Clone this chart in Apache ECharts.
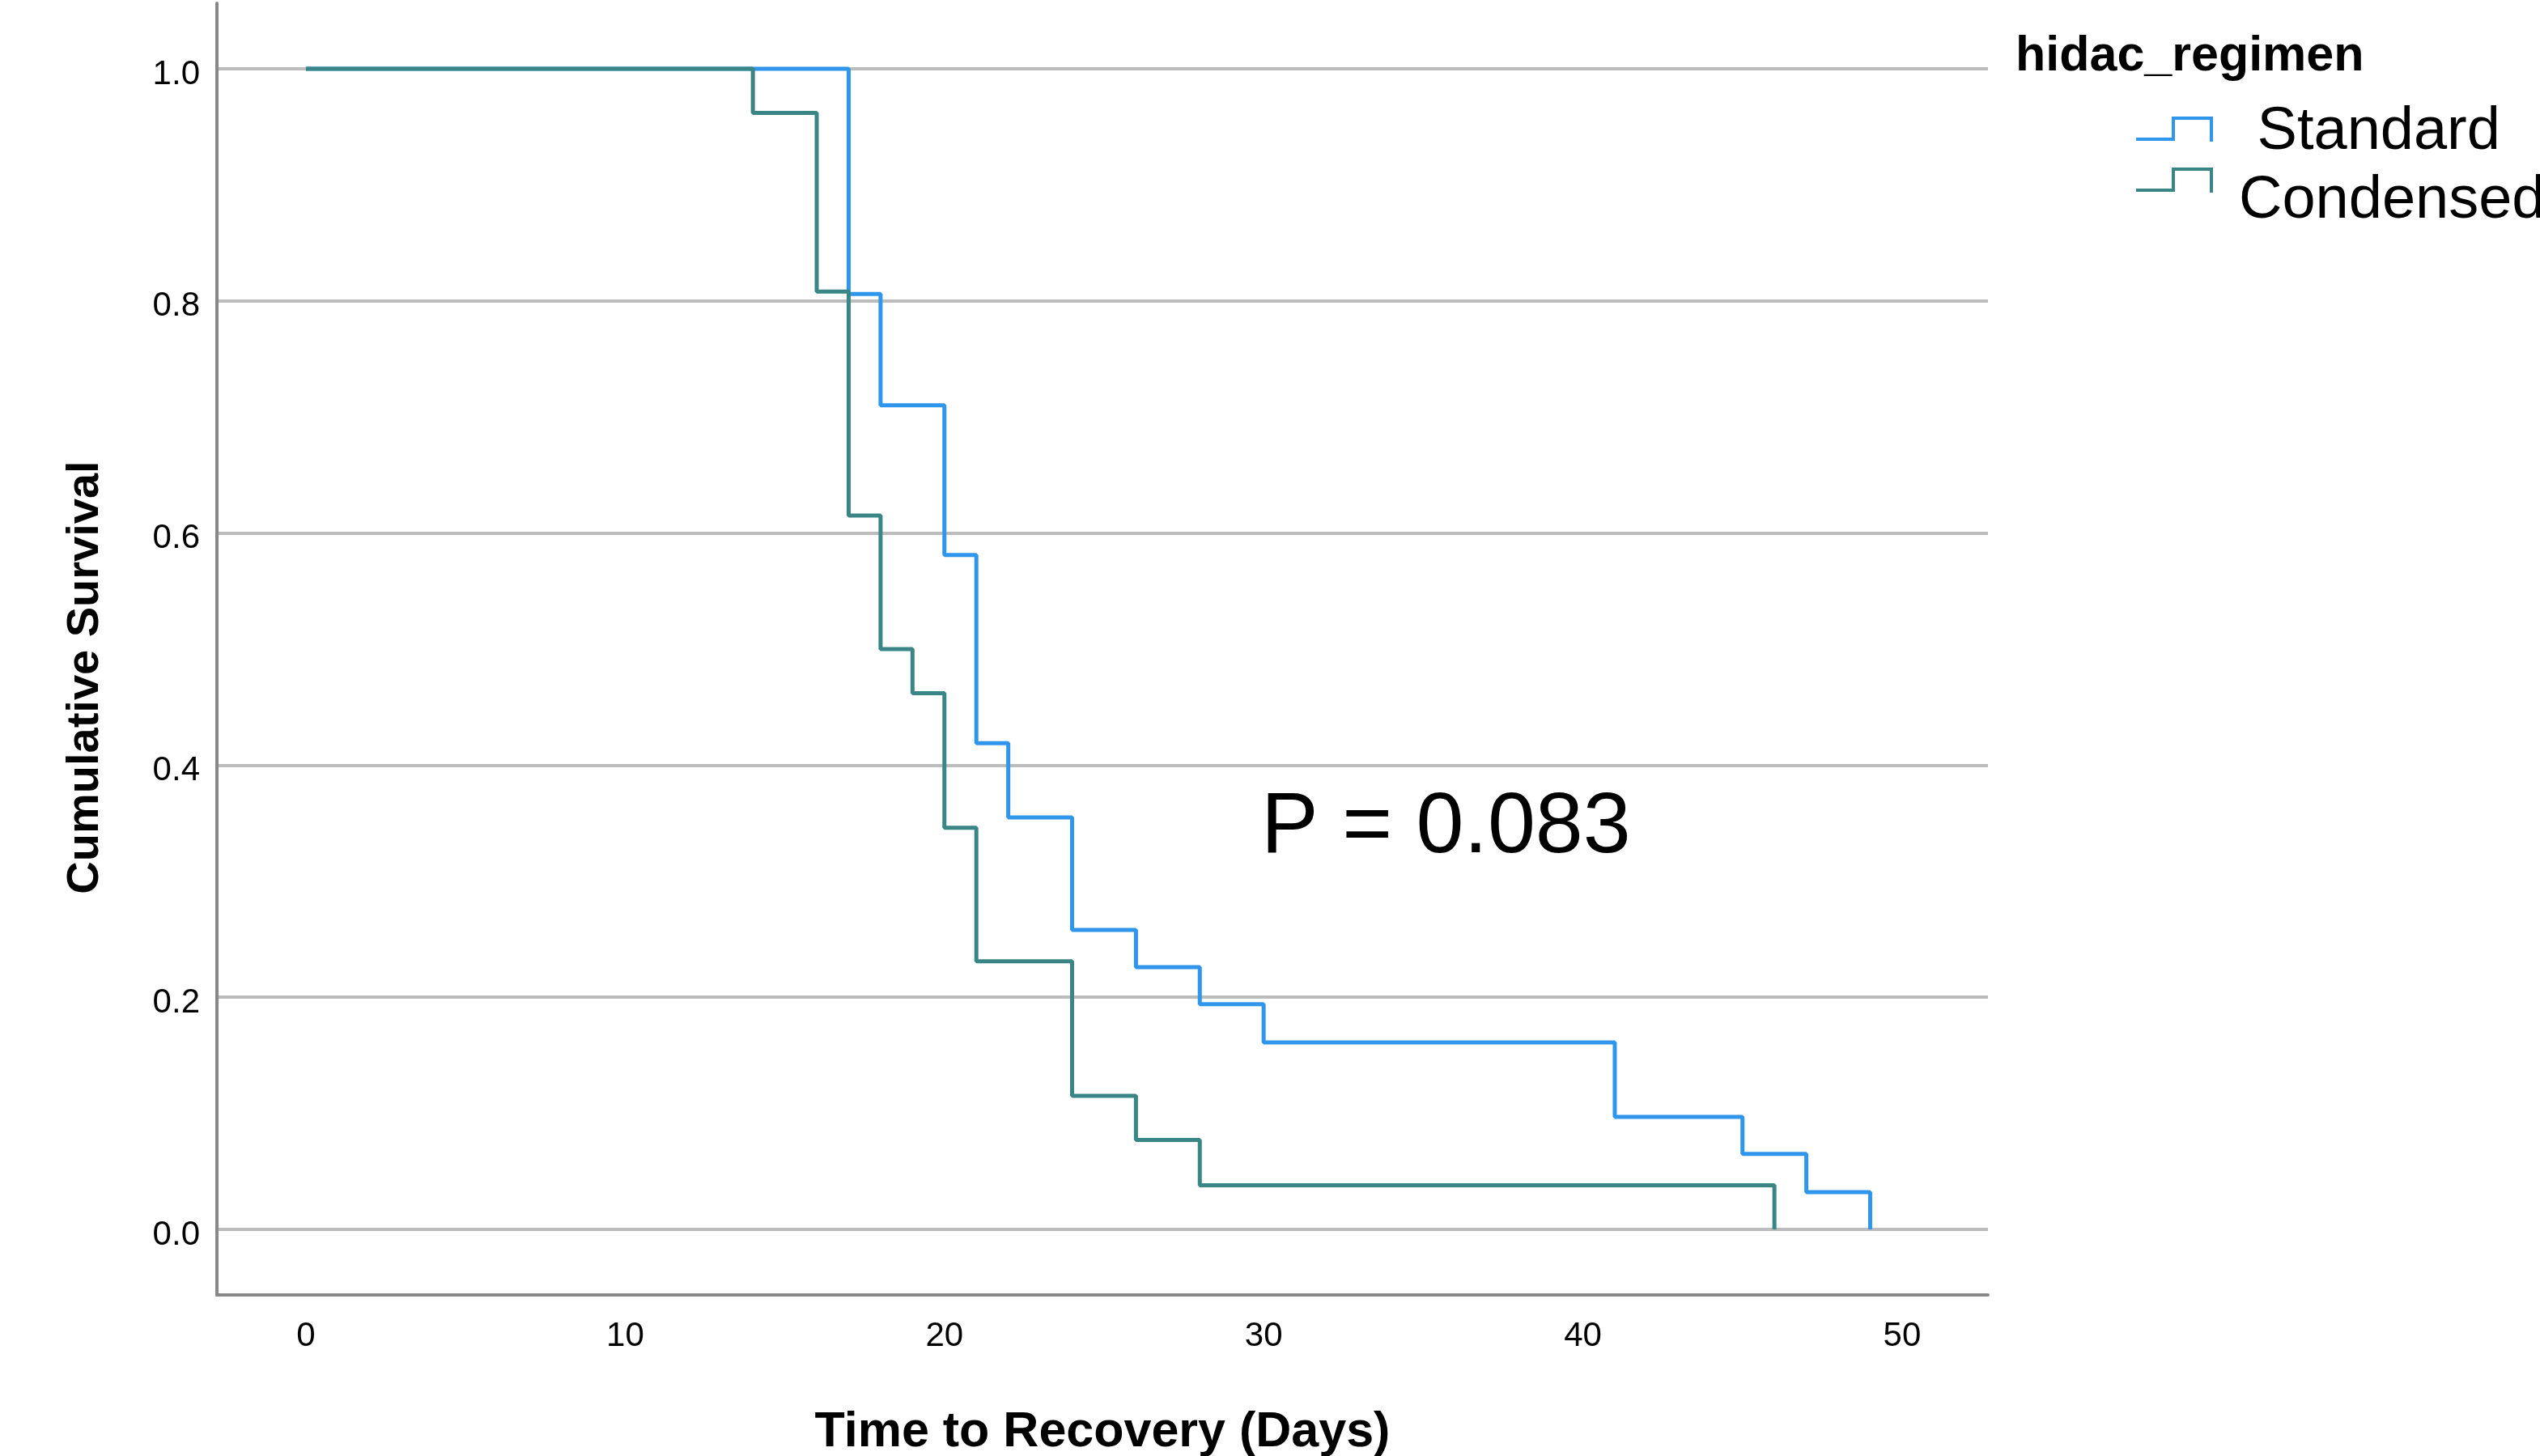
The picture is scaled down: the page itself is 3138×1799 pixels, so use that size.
<!DOCTYPE html>
<html>
<head>
<meta charset="utf-8">
<script src="https://cdn.jsdelivr.net/npm/echarts@6/dist/echarts.min.js"></script>
<style>
html,body{margin:0;padding:0;background:#fff;}
#chart{width:3138px;height:1799px;}
</style>
</head>
<body>
<div id="chart"></div>
<script>
// ---- data ----
const groupNames = ['Standard', 'Condensed'];
const standardTimes = [0, 17, 18, 20, 21, 22, 24, 26, 28, 30, 41, 45, 47, 49];
const standardSurv  = [1.000, 0.806, 0.710, 0.581, 0.419, 0.355, 0.258, 0.226, 0.194, 0.161, 0.097, 0.065, 0.032, 0.000];
const condensedTimes = [0, 14, 16, 17, 18, 19, 20, 21, 24, 26, 28, 46];
const condensedSurv  = [1.000, 0.962, 0.808, 0.615, 0.500, 0.462, 0.346, 0.231, 0.115, 0.077, 0.038, 0.000];
const xTicks = [0, 10, 20, 30, 40, 50];
const yTicks = [0.0, 0.2, 0.4, 0.6, 0.8, 1.0];
const xTitle = 'Time to Recovery (Days)';
const yTitle = 'Cumulative Survival';
const legendTitle = 'hidac_regimen';
const pText = 'P = 0.083';

const colors = ['#2f96ec', '#3a8585'];
const FONT = "'Liberation Sans', Arial, sans-serif";

function pairs(t, s) { return t.map((x, i) => [x, s[i]]); }

const chart = echarts.init(document.getElementById('chart'), null, {renderer: 'canvas'});

function stepIcon(x, y, color) {
  return {
    type: 'polyline',
    x: x, y: y,
    shape: {points: [[0, 28], [46, 28], [46, 2], [93, 2], [93, 31]]},
    style: {stroke: color, lineWidth: 4, fill: null}
  };
}

const option = {
  backgroundColor: '#ffffff',
  animation: false,
  grid: {left: 268, right: 682, top: 4, bottom: 199, containLabel: false, outerBoundsMode: 'none'},
  xAxis: {
    type: 'value',
    min: -2.789, max: 52.69,
    name: xTitle,
    nameLocation: 'middle',
    nameGap: 140,
    nameTextStyle: {fontFamily: FONT, fontSize: 61, fontWeight: 'bold', color: '#000'},
    axisLine: {show: true, onZero: false, lineStyle: {color: '#888888', width: 4}},
    axisTick: {show: false, customValues: xTicks},
    axisLabel: {customValues: xTicks, fontFamily: FONT, fontSize: 42, color: '#000', margin: 30},
    splitLine: {show: false}
  },
  yAxis: {
    type: 'value',
    min: -0.0565, max: 1.0565,
    name: yTitle,
    nameLocation: 'middle',
    nameGap: 134,
    nameTextStyle: {fontFamily: FONT, fontSize: 56, fontWeight: 'bold', color: '#000', padding: [0, 70, 0, 0]},
    axisLine: {show: true, onZero: false, lineStyle: {color: '#888888', width: 4}},
    axisTick: {show: false, customValues: yTicks},
    axisLabel: {customValues: yTicks, fontFamily: FONT, fontSize: 42, color: '#000', margin: 21,
      verticalAlign: 'top', lineHeight: 14,
      formatter: v => v.toFixed(1)},
    splitLine: {show: true, lineStyle: {color: '#bcbcbc', width: 4}}
  },
  series: [
    {
      name: groupNames[0], type: 'line', step: 'end', showSymbol: false, symbol: 'none',
      data: pairs(standardTimes, standardSurv),
      lineStyle: {color: colors[0], width: 5}, itemStyle: {color: colors[0]}, z: 3
    },
    {
      name: groupNames[1], type: 'line', step: 'end', showSymbol: false, symbol: 'none',
      data: pairs(condensedTimes, condensedSurv),
      lineStyle: {color: colors[1], width: 5}, itemStyle: {color: colors[1]}, z: 4
    }
  ],
  graphic: [
    {type: 'text', x: 2490, y: 70, style: {text: legendTitle, font: 'bold 61px ' + FONT, fill: '#000', textVerticalAlign: 'middle'}},
    stepIcon(2639, 144, colors[0]),
    {type: 'text', x: 2768, y: 164, style: {text: ' ' + groupNames[0], font: '74px ' + FONT, fill: '#000', textVerticalAlign: 'middle'}},
    stepIcon(2639, 207, colors[1]),
    {type: 'text', x: 2766, y: 249, style: {text: groupNames[1], font: '74px ' + FONT, fill: '#000', textVerticalAlign: 'middle'}},
    {type: 'text', x: 1558, y: 1024, style: {text: pText, font: '106px ' + FONT, fill: '#000', textVerticalAlign: 'middle'}}
  ]
};
chart.setOption(option);
</script>
</body>
</html>
